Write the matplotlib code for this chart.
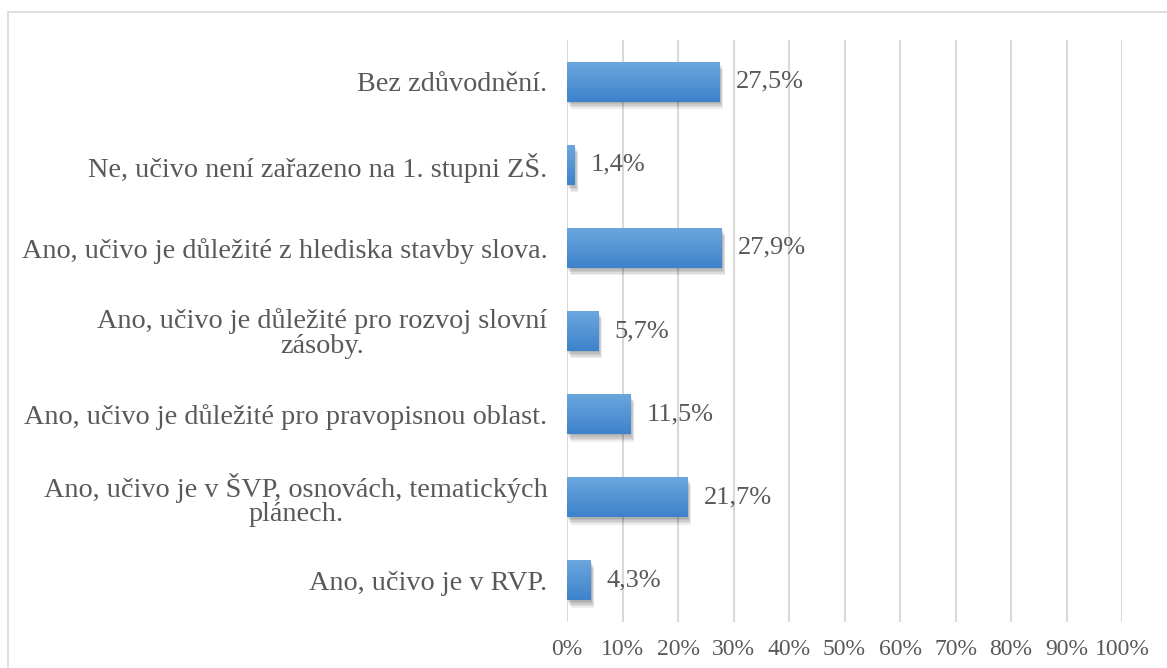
import numpy as np
import matplotlib.pyplot as plt
from matplotlib.colors import LinearSegmentedColormap
from matplotlib.patches import Rectangle

categories = [
    'Bez zdůvodnění.',
    'Ne, učivo není zařazeno na 1. stupni ZŠ.',
    'Ano, učivo je důležité z hlediska stavby slova.',
    'Ano, učivo je důležité pro rozvoj slovní\nzásoby.',
    'Ano, učivo je důležité pro pravopisnou oblast.',
    'Ano, učivo je v ŠVP, osnovách, tematických\nplánech.',
    'Ano, učivo je v RVP.',
]
values = [27.5, 1.4, 27.9, 5.7, 11.5, 21.7, 4.3]
labels = ['27,5%', '1,4%', '27,9%', '5,7%', '11,5%', '21,7%', '4,3%']
ticks = list(range(0, 101, 10))

plt.rcParams['font.family'] = ['Liberation Serif', 'DejaVu Serif']
TXT = '#595959'

fig = plt.figure(figsize=(11.67, 6.68), dpi=100)
ax = fig.add_axes([567 / 1167, 1 - 622 / 668, (1122 - 567) / 1167, (622 - 40) / 668])

# outer frame
fig.patches.append(Rectangle((8 / 1167, -0.1), 1.2, 1 - 12 / 668 + 0.1,
                             transform=fig.transFigure, fill=False,
                             edgecolor='#d9d9d9', linewidth=1.2))

n = len(categories)
y = np.arange(n)[::-1]
height = 0.48

cmap = LinearSegmentedColormap.from_list('bar', ['#6ba6de', '#3d83cb'])
grad = np.linspace(0, 1, 64).reshape(-1, 1)

for yi, v, lab in zip(y, values, labels):
    # soft shadow, right and below
    for k in range(5):
        off = 0.12 + 0.13 * k
        ax.add_patch(Rectangle((off, yi - height / 2 - off * 0.14), v, height,
                               facecolor='#000000', alpha=0.07, linewidth=0,
                               zorder=2))
    bar = Rectangle((0, yi - height / 2), v, height, facecolor='none',
                    linewidth=0, zorder=3)
    ax.add_patch(bar)
    im = ax.imshow(grad, cmap=cmap, aspect='auto', zorder=3,
                   extent=(0, v, yi - height / 2, yi + height / 2))
    im.set_clip_path(bar)
    ax.text(v + 2.9, yi, lab, va='center', ha='left', fontsize=19,
            color=TXT, zorder=4)

ax.set_xlim(0, 100)
ax.set_ylim(-0.5, n - 0.5)
ax.set_xticks(ticks)
ax.set_xticklabels([f'{t}%' for t in ticks], fontsize=17, color=TXT)
ax.set_yticks(y)
ax.set_yticklabels(categories, fontsize=20.3, color=TXT, ha='right')
for t in ax.get_yticklabels():
    t.set_multialignment('center')
    t.set_linespacing(0.95)
ax.tick_params(axis='both', length=0)
ax.tick_params(axis='x', pad=12)
ax.tick_params(axis='y', pad=14)
ax.grid(axis='x', color='#d9d9d9', linewidth=1.5, zorder=0)
ax.set_axisbelow(True)
for s in ax.spines.values():
    s.set_visible(False)

fig.savefig('out.png', dpi=100)
